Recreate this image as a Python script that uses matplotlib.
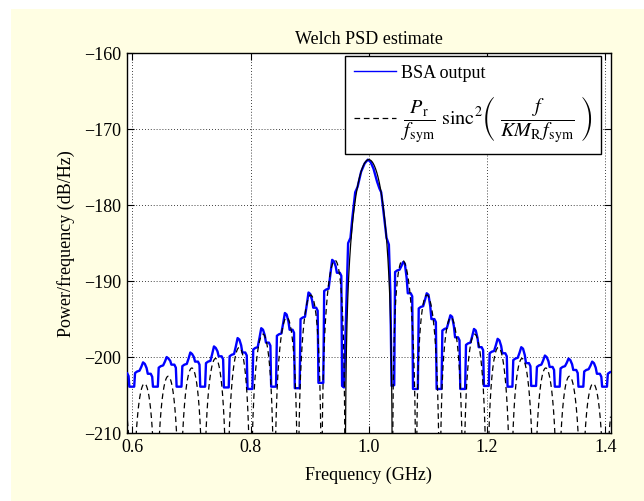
import numpy as np
import matplotlib.pyplot as plt
from matplotlib.patches import Rectangle

plt.rcParams['font.family'] = ['Liberation Serif', 'DejaVu Serif']
plt.rcParams['mathtext.fontset'] = 'stix'
plt.rcParams['font.size'] = 13

# ---- theoretical spectrum: Pr/fsym * sinc^2(f / (K MR fsym)) around the carrier ----
f_carrier = 1.0        # GHz
null_spacing = 0.04    # GHz, K*MR*fsym
peak_db = -174.0       # dB/Hz, Pr/fsym

# ---- measured BSA output (Welch estimate), side lobes described by their levels ----
lobe_centers_left = [0.58, 0.62, 0.66, 0.70, 0.74, 0.78, 0.82, 0.86, 0.90, 0.94]
shoulder_in_left = [-202.6, -201.9, -201.2, -201.0, -200.6, -199.7, -198.8, -197.0, -194.8, -191.1]
lobe_peak_left = [-201.5, -200.7, -200.0, -199.4, -198.6, -197.5, -196.2, -194.2, -191.5, -187.2]
shoulder_out_left = [-202.1, -202.2, -201.0, -200.6, -199.9, -199.4, -198.1, -196.4, -193.5, -188.9]
null_db_left = [-203.9, -203.9, -203.9, -203.9, -203.9, -204.0, -204.2, -203.9, -204.1, -203.4, -203.8]

lobe_centers_right = [1.06, 1.10, 1.14, 1.18, 1.22, 1.26, 1.30, 1.34, 1.38, 1.42]
shoulder_in_right = [-188.6, -193.4, -196.3, -198.2, -199.3, -200.2, -201.1, -201.3, -201.7, -202.0]
lobe_peak_right = [-187.5, -191.6, -194.5, -196.3, -197.6, -198.7, -199.8, -200.2, -200.6, -201.0]
shoulder_out_right = [-191.6, -195.0, -197.4, -198.7, -199.5, -200.8, -201.3, -201.7, -202.2, -202.5]
null_db_right = [-203.7, -204.2, -204.2, -204.2, -203.8, -203.9, -203.8, -203.9, -203.9, -203.9, -203.9]

main_f = [0.958, 0.9625, 0.965, 0.969, 0.972, 0.977, 0.981, 0.987, 0.993, 0.9985,
          1.003, 1.008, 1.014, 1.018, 1.021, 1.026, 1.030, 1.034, 1.0365, 1.0385]
main_db = [-204.0, -191.5, -185.0, -184.3, -181.8, -178.3, -177.6, -175.6, -174.5, -174.0,
           -174.3, -175.2, -176.9, -177.8, -178.3, -181.6, -184.3, -185.2, -191.5, -203.8]

x_ticks = [0.6, 0.8, 1.0, 1.2, 1.4]
y_ticks = [-210, -200, -190, -180, -170, -160]


def lobe_points(c, lo_null, left, peak, right, hi_null):
    # one side lobe of the estimate: floor, shoulder, rounded peak, shoulder, floor
    fs = [c - 0.017, c - 0.0155, c - 0.012, c - 0.008, c - 0.005, c - 0.002,
          c + 0.001, c + 0.004, c + 0.006, c + 0.011, c + 0.0135, c + 0.0148]
    ds = [lo_null, left - 0.2, left, left + 0.1, (left + peak) / 2, peak,
          peak - 0.2, (peak + right) / 2, right, right, right - 0.4, hi_null]
    return fs, ds


bsa_f, bsa_db = [], []
for i, c in enumerate(lobe_centers_left):
    fs, ds = lobe_points(c, null_db_left[i], shoulder_in_left[i], lobe_peak_left[i],
                         shoulder_out_left[i], null_db_left[i + 1])
    bsa_f += fs
    bsa_db += ds
bsa_f += main_f
bsa_db += main_db
for i, c in enumerate(lobe_centers_right):
    fs, ds = lobe_points(c, null_db_right[i], shoulder_in_right[i], lobe_peak_right[i],
                         shoulder_out_right[i], null_db_right[i + 1])
    bsa_f += fs
    bsa_db += ds

f = np.linspace(0.58, 1.42, 16801)
ratio = np.sinc((f - f_carrier) / null_spacing) ** 2
ref_db = peak_db + 10 * np.log10(np.maximum(ratio, 1e-30))
in_main = np.abs(f - f_carrier) <= null_spacing
ref_side = np.where(in_main, np.nan, ref_db)
ref_main = np.where(in_main, ref_db, np.nan)

fig = plt.figure(figsize=(6.44, 5.01), dpi=100)
fig.patch.set_facecolor('white')
fig.patches.append(Rectangle((11 / 644, 0), 1, 1 - 9 / 501, transform=fig.transFigure,
                             facecolor='#fffee3', edgecolor='none', zorder=-10))

ax = fig.add_axes([126.5 / 644, 1 - 433 / 501, 484 / 644, 379.7 / 501])
ax.set_facecolor('white')

ax.plot(bsa_f, bsa_db, color='#0000ff', lw=1.7, label='BSA output', zorder=3)
ax.plot(f, ref_side, color='black', lw=0.9, linestyle=(0, (4.5, 3)), zorder=4,
        label=r'$\dfrac{P_{\mathrm{r}}}{f_{\mathrm{sym}}}\ \mathrm{sinc}^{2}'
              r'\left(\ \dfrac{f}{KM_{\mathrm{R}}\,f_{\mathrm{sym}}}\ \right)$')
ax.plot(f, ref_main, color='black', lw=0.9, zorder=4)

ax.set_xlim(0.59, 1.409)
ax.set_ylim(-210, -160)
ax.set_xticks(x_ticks)
ax.set_xticklabels(['%.1f' % v for v in x_ticks])
ax.set_yticks(y_ticks)
ax.tick_params(direction='in', top=True, right=True, length=5, width=0.8, labelsize=13, pad=4)
ax.grid(True, color='black', linestyle=(0, (1, 2.5)), linewidth=0.6)
for s in ax.spines.values():
    s.set_linewidth(1.0)

ax.set_title('Welch PSD estimate', fontsize=13, pad=7)
ax.set_xlabel('Frequency (GHz)', fontsize=13, labelpad=8)
ax.set_ylabel('Power/frequency (dB/Hz)', fontsize=13, labelpad=6)

leg = ax.legend(loc='upper right', bbox_to_anchor=(0.9814, 0.994), borderaxespad=0,
                fancybox=False, framealpha=1, edgecolor='black', handlelength=2.3,
                handletextpad=0.3, borderpad=0.5, labelspacing=0.7, fontsize=13)
leg.get_frame().set_linewidth(1.0)
leg.get_texts()[1].set_fontsize(14.5)
leg.get_lines()[0].set_linewidth(1.0)

fig.savefig('out.png', dpi=100)
